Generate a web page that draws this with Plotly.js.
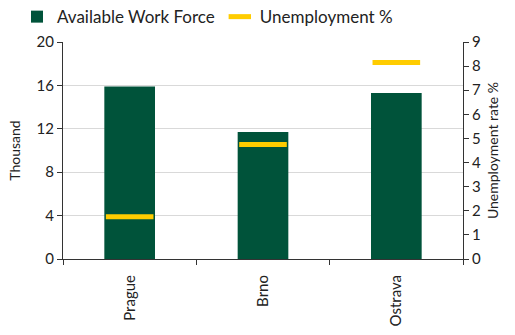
<!DOCTYPE html>
<html>
<head>
<meta charset="utf-8">
<script src="https://cdn.plot.ly/plotly-3.0.1.min.js"></script>
<style>html,body{margin:0;padding:0;background:#fff;}#chart{width:515px;height:335px;}</style>
</head>
<body>
<div id="chart"></div>
<script>
const categories = ["Prague", "Brno", "Ostrava"];
const workForce = [15.9, 11.7, 15.3];
const unemployment = [1.75, 4.75, 8.15];
const leftTicks = [0, 4, 8, 12, 16, 20];
const rightTicks = [0, 1, 2, 3, 4, 5, 6, 7, 8, 9];

const FONT = "Lato, 'Noto Sans', sans-serif";
const data = [
  {
    type: "bar",
    name: "Available Work Force",
    x: categories,
    y: workForce,
    marker: {color: "#00533A"},
    yaxis: "y"
  },
  {
    type: "scatter",
    mode: "markers",
    name: "Unemployment %",
    x: categories,
    y: unemployment,
    yaxis: "y2",
    marker: {symbol: "line-ew", size: 34, color: "#FFCC00", line: {color: "#FFCC00", width: 5}}
  }
];
const layout = {
  width: 515, height: 335,
  margin: {l: 63, r: 52, t: 42, b: 76},
  paper_bgcolor: "#fff", plot_bgcolor: "#fff",
  font: {family: FONT, size: 15, color: "#222"},
  bargap: 0.62,
  showlegend: true,
  legend: {orientation: "h", x: 0.033, xref: "container", xanchor: "left", y: 0.949, yref: "container", yanchor: "middle",
           font: {size: 17, color: "#222"}, itemwidth: 30, traceorder: "normal", tracegroupgap: 0},
  xaxis: {
    type: "category", tickson: "boundaries", ticks: "outside", ticklen: 5, tickcolor: "#333",
    showline: true, linecolor: "#333", linewidth: 1, tickangle: -90, ticklabelstandoff: 9,
    tickfont: {size: 15, color: "#222"}, showgrid: false, zeroline: false
  },
  yaxis: {
    range: [0, 20], tickvals: leftTicks, ticks: "outside", ticklen: 5, tickcolor: "#333",
    showline: true, linecolor: "#333", showgrid: true, gridcolor: "#d9d9d9", zeroline: false,
    title: {text: "Thousand", font: {size: 14, color: "#222"}, standoff: 12},
    tickfont: {size: 15, color: "#222"}
  },
  yaxis2: {
    overlaying: "y", side: "right", range: [0, 9], tickvals: rightTicks,
    ticks: "outside", ticklen: 5, tickcolor: "#333",
    showline: true, linecolor: "#333", showgrid: false, zeroline: false,
    title: {text: "Unemployment rate %", font: {size: 14, color: "#222"}, standoff: 8},
    tickfont: {size: 15, color: "#222"}
  }
};
Plotly.newPlot("chart", data, layout, {displayModeBar: false, staticPlot: true});
</script>
</body>
</html>
